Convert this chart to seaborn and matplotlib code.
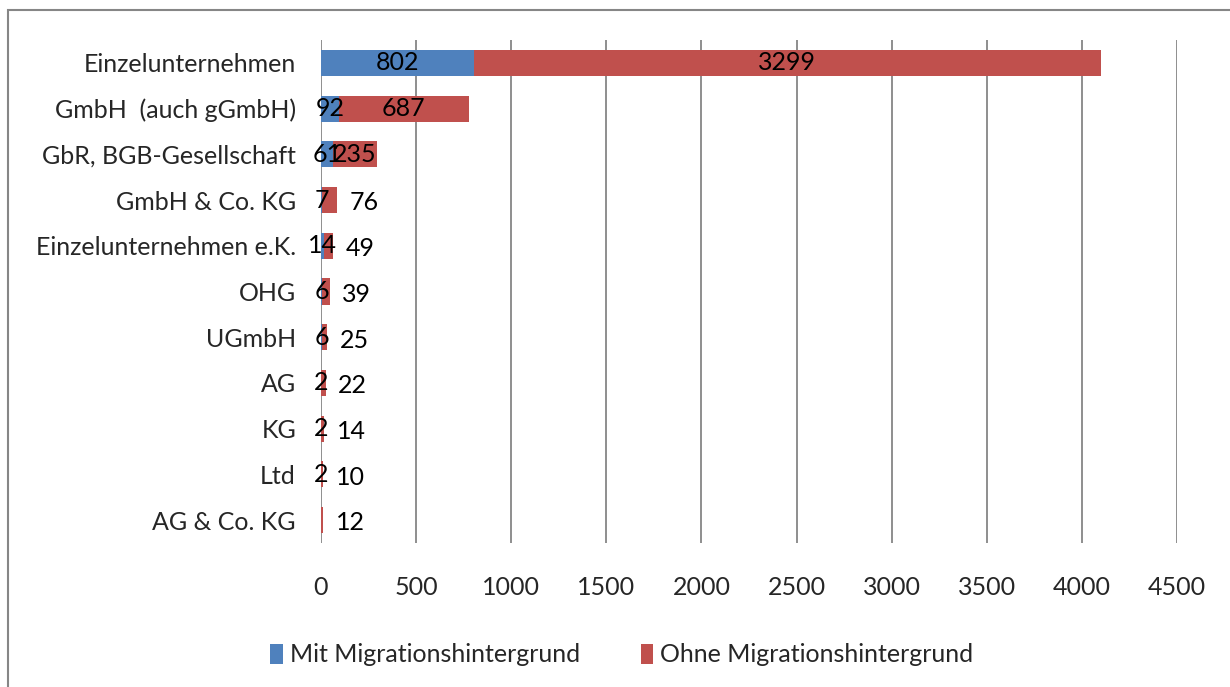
import matplotlib
matplotlib.use("Agg")
import matplotlib.pyplot as plt
from matplotlib.patches import Patch, Rectangle
import seaborn as sns
import pandas as pd

# Rechtsformen der Unternehmen, nach Migrationshintergrund
categories = [
    "Einzelunternehmen",
    "GmbH  (auch gGmbH)",
    "GbR, BGB-Gesellschaft",
    "GmbH & Co. KG",
    "Einzelunternehmen e.K.",
    "OHG",
    "UGmbH",
    "AG",
    "KG",
    "Ltd",
    "AG & Co. KG",
]
mit_migration = [802, 92, 61, 7, 14, 6, 6, 2, 2, 2, 0]
ohne_migration = [3299, 687, 235, 76, 49, 39, 25, 22, 14, 10, 12]
x_ticks = [0, 500, 1000, 1500, 2000, 2500, 3000, 3500, 4000, 4500]
series_names = ["Mit Migrationshintergrund", "Ohne Migrationshintergrund"]

BLUE = "#4F81BD"
RED = "#C0504D"
GRID = "#868686"

sns.set_theme(style="white")
plt.rcParams["font.family"] = ["Lato", "DejaVu Sans"]
FS = 18

df = pd.DataFrame({"Rechtsform": categories,
                   "Mit": mit_migration,
                   "Ohne": ohne_migration})
df["Gesamt"] = df["Mit"] + df["Ohne"]

W, H = 1230, 687
fig = plt.figure(figsize=(W / 100, H / 100), dpi=100)
ax = fig.add_axes([321 / W, 1 - 543 / H, (1177 - 321) / W, (543 - 40) / H])

# stacked bars: total length in red, the "Mit" part in blue on top of it
sns.barplot(data=df, y="Rechtsform", x="Gesamt", color=RED, saturation=1,
            width=0.57, linewidth=0, orient="h", ax=ax, zorder=2)
sns.barplot(data=df, y="Rechtsform", x="Mit", color=BLUE, saturation=1,
            width=0.57, linewidth=0, orient="h", ax=ax, zorder=3)

ax.set_xlim(0, 4500)
ax.set_xticks(x_ticks)
ax.set_xticklabels([str(t) for t in x_ticks], fontsize=FS)
ax.tick_params(axis="x", length=0, pad=24)
ax.tick_params(axis="y", length=0, pad=18, labelsize=FS)
ax.set_xlabel("")
ax.set_ylabel("")
ax.xaxis.grid(True, color=GRID, linewidth=1.3)
ax.yaxis.grid(False)
ax.set_axisbelow(True)
for s in ax.spines.values():
    s.set_visible(False)

# value labels: centred in wide segments, just right of the bar for narrow ones
for i, (m, o) in enumerate(zip(mit_migration, ohne_migration)):
    if m > 0:
        ax.text(m / 2, i, str(m), ha="center", va="center", fontsize=FS,
                color="black", zorder=5)
    if o >= 100:
        ax.text(m + o / 2, i, str(o), ha="center", va="center", fontsize=FS,
                color="black", zorder=5)
    else:
        ax.annotate(str(o), (m + o, i), xytext=(9, -2), textcoords="offset points",
                    ha="left", va="center", fontsize=FS, color="black", zorder=5)

# outer chart border
fig.add_artist(Rectangle((8 / W, -0.1), 1.2, 1 - 10 / H + 0.1,
                         transform=fig.transFigure, fill=False,
                         edgecolor=GRID, linewidth=1.5))

handles = [Patch(facecolor=BLUE, edgecolor="none"),
           Patch(facecolor=RED, edgecolor="none")]
fig.legend(handles, series_names, loc="center", bbox_to_anchor=(622 / W, 1 - 655 / H),
           ncol=2, frameon=False, fontsize=FS, handlelength=0.5, handleheight=0.85,
           handletextpad=0.3, columnspacing=2.4)

fig.savefig("out.png", dpi=100)
